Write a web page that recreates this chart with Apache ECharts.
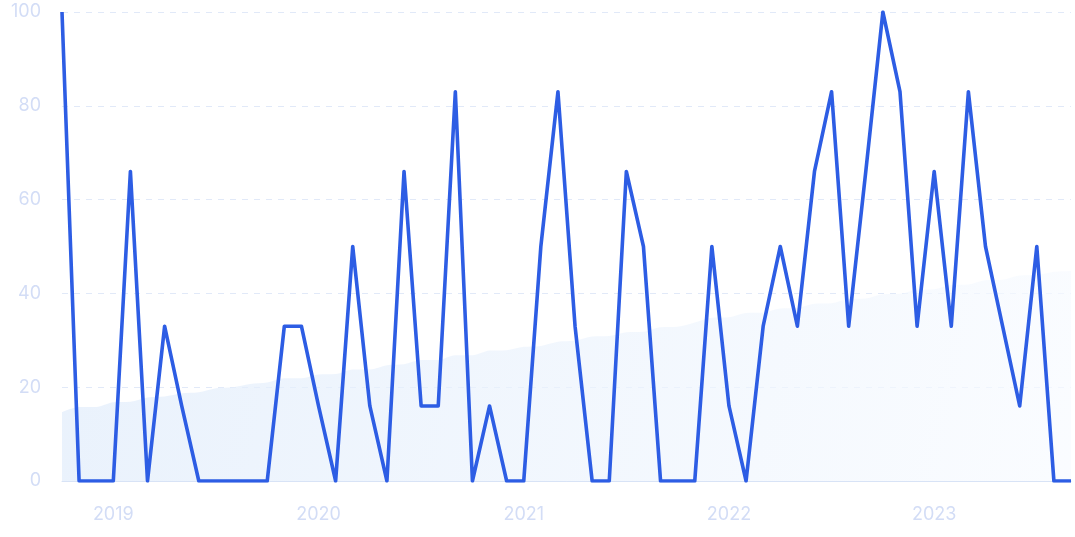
<!DOCTYPE html>
<html>
<head>
<meta charset="utf-8">
<script src="https://cdn.jsdelivr.net/npm/echarts@6/dist/echarts.min.js"></script>
<style>
html,body{margin:0;padding:0;background:#fff;}
#chart{width:1075px;height:537px;}
</style>
</head>
<body>
<div id="chart"></div>
<script>
// Monthly categories Oct 2018 .. Sep 2023
const months = [
 '2018-10','2018-11','2018-12',
 '2019-01','2019-02','2019-03','2019-04','2019-05','2019-06','2019-07','2019-08','2019-09','2019-10','2019-11','2019-12',
 '2020-01','2020-02','2020-03','2020-04','2020-05','2020-06','2020-07','2020-08','2020-09','2020-10','2020-11','2020-12',
 '2021-01','2021-02','2021-03','2021-04','2021-05','2021-06','2021-07','2021-08','2021-09','2021-10','2021-11','2021-12',
 '2022-01','2022-02','2022-03','2022-04','2022-05','2022-06','2022-07','2022-08','2022-09','2022-10','2022-11','2022-12',
 '2023-01','2023-02','2023-03','2023-04','2023-05','2023-06','2023-07','2023-08','2023-09'
];
const interest = [
 100,0,0,
 0,66,0,33,16,0,0,0,0,0,33,33,
 16,0,50,16,0,66,16,16,83,0,16,0,
 0,50,83,33,0,0,66,50,0,0,0,50,
 16,0,33,50,33,66,83,33,66,100,83,33,
 66,33,83,50,33,16,50,0,0
];
const trend = [
 14.7,15.8,15.8,
 16.8,16.9,17.8,18.0,18.7,18.9,19.8,20.0,20.7,21.0,21.9,21.9,
 22.7,22.8,23.8,23.8,24.7,24.9,25.8,25.8,26.8,26.8,27.8,27.9,
 28.6,28.8,29.7,29.9,30.8,30.9,31.7,31.8,32.8,32.9,33.8,34.8,
 34.9,35.8,35.9,36.8,36.9,37.8,37.9,38.8,38.9,39.8,39.9,40.8,
 40.9,41.8,41.9,42.8,42.9,43.8,43.9,44.6,44.8
];
const yTicks = [0,20,40,60,80,100];

const chart = echarts.init(document.getElementById('chart'), null, {renderer:'canvas'});
const labelColor = '#d3ddf6';
chart.setOption({
  animation:false,
  backgroundColor:'#ffffff',
  grid:{left:62,right:4,top:12,bottom:56},
  xAxis:{
    type:'category',
    data:months,
    boundaryGap:false,
    axisLine:{show:true,lineStyle:{color:'#d8e3f6',width:1}},
    axisTick:{show:false},
    splitLine:{show:false},
    axisLabel:{
      color:labelColor,
      fontSize:18,
      fontFamily:'Inter, "Noto Sans", sans-serif',
      margin:25,
      interval:function(i,v){return v.slice(5)==='01';},
      formatter:function(v){return v.slice(0,4);}
    }
  },
  yAxis:{
    type:'value',
    min:yTicks[0],
    max:yTicks[yTicks.length-1],
    interval:20,
    axisLine:{show:false},
    axisTick:{show:false},
    axisLabel:{
      color:labelColor,
      fontSize:18,
      fontFamily:'Inter, "Noto Sans", sans-serif',
      margin:21
    },
    splitLine:{show:true,lineStyle:{color:'#e1e9f8',type:[6,6],width:1}}
  },
  series:[
    {
      name:'trend',
      type:'line',
      data:trend,
      smooth:0.3,
      showSymbol:false,
      lineStyle:{width:0},
      areaStyle:{
        color:new echarts.graphic.LinearGradient(0,0,1,1,[
          {offset:0,color:'#e0ecfb'},
          {offset:1,color:'#f8fbff'}
        ])
      },
      z:1
    },
    {
      name:'interest',
      type:'line',
      data:interest,
      showSymbol:false,
      lineStyle:{color:'#2d5de4',width:3.6,join:'round'},
      z:3
    }
  ]
});
</script>
</body>
</html>
